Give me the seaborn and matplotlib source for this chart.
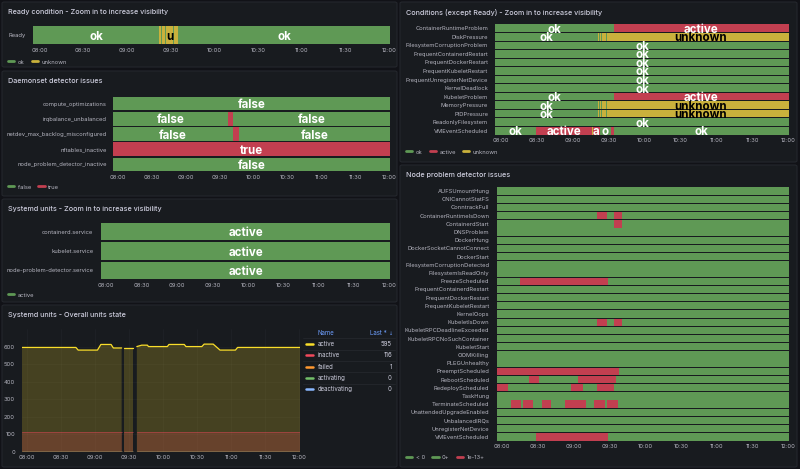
import numpy as np
import pandas as pd
import matplotlib
matplotlib.use("Agg")
import matplotlib.pyplot as plt
import seaborn as sns
from matplotlib.lines import Line2D
from matplotlib.patches import FancyBboxPatch

# ---- data: times are minutes after 08:00 ----
X0, X1 = -4.5, 240.5
tick_minutes = [0, 30, 60, 90, 120, 150, 180, 210, 240]
tick_labels = ["08:00", "08:30", "09:00", "09:30", "10:00", "10:30", "11:00", "11:30", "12:00"]

# state timelines: list of (change time, new state) per row
ready_rows = ["Ready"]
ready_changes = [[(X0, "ok"), (82, "unknown"), (83.5, "ok"), (84, "unknown"), (86.3, "ok"),
                  (86.8, "unknown"), (91.8, "ok"), (92.3, "unknown"), (95.3, "ok")]]

ds_rows = ["compute_optimizations", "irqbalance_unbalanced", "netdev_max_backlog_misconfigured",
           "nftables_inactive", "node_problem_detector_inactive"]
ds_changes = [[(X0, "false")],
              [(X0, "false"), (97, "true"), (101.5, "false")],
              [(X0, "false"), (102, "true"), (107, "false")],
              [(X0, "true")],
              [(X0, "false")]]

sd_rows = ["containerd.service", "kubelet.service", "node-problem-detector.service"]
sd_changes = [[(X0, "active")], [(X0, "active")], [(X0, "active")]]

cond_rows = ["ContainerRuntimeProblem", "DiskPressure", "FilesystemCorruptionProblem",
             "FrequentContainerdRestart", "FrequentDockerRestart", "FrequentKubeletRestart",
             "FrequentUnregisterNetDevice", "KernelDeadlock", "KubeletProblem", "MemoryPressure",
             "PIDPressure", "ReadonlyFilesystem", "VMEventScheduled"]
pressure_changes = [(X0, "ok"), (81.5, "unknown"), (82.3, "ok"), (83, "unknown"), (84, "ok"),
                    (84.6, "unknown"), (88, "ok"), (88.6, "unknown"), (92, "ok"), (92.5, "unknown")]
cond_changes = [[(X0, "ok"), (94.5, "active")],
                pressure_changes,
                [(X0, "ok")], [(X0, "ok")], [(X0, "ok")], [(X0, "ok")], [(X0, "ok")], [(X0, "ok")],
                [(X0, "ok"), (94.5, "active")],
                pressure_changes,
                pressure_changes,
                [(X0, "ok")],
                [(X0, "ok"), (30, "active"), (76, "unknown"), (76.8, "active"), (83, "ok"),
                 (92, "active"), (95, "ok")]]

npd_rows = ["AUFSUmountHung", "CNICannotStatFS", "ConntrackFull", "ContainerRuntimeIsDown",
            "ContainerdStart", "DNSProblem", "DockerHung", "DockerSocketCannotConnect", "DockerStart",
            "FilesystemCorruptionDetected", "FilesystemIsReadOnly", "FreezeScheduled",
            "FrequentContainerdRestart", "FrequentDockerRestart", "FrequentKubeletRestart",
            "KernelOops", "KubeletIsDown", "KubeletRPCDeadlineExceeded", "KubeletRPCNoSuchContainer",
            "KubeletStart", "OOMKilling", "PLEGUnhealthy", "PreemptScheduled", "RebootScheduled",
            "RedeployScheduled", "TaskHung", "TerminateScheduled", "UnattendedUpgradeEnabled",
            "UnbalancedIRQs", "UnregisterNetDevice", "VMEventScheduled"]
# (start, end) of the red "1e-13+" periods per row
npd_issues = {
    "ContainerRuntimeIsDown": [(79, 88), (94, 100)],
    "ContainerdStart": [(94, 100)],
    "FreezeScheduled": [(14.5, 89)],
    "KubeletIsDown": [(79, 88), (94, 100)],
    "PreemptScheduled": [(X0, 98)],
    "RebootScheduled": [(22, 31), (63.5, 95.5)],
    "RedeployScheduled": [(X0, 5), (58, 67.5), (79.5, 94)],
    "TerminateScheduled": [(7.4, 16), (17.7, 26), (33, 41), (52.5, 70), (77, 86), (88, 97)],
    "VMEventScheduled": [(28.5, 89)],
}

# systemd unit counts (None = no data)
units_t = [X0, 43, 45, 62, 65, 74, 76, 83.3, 84, 85, 93, 95, 96.7, 101, 106, 107, 123.6, 125,
           138.5, 140, 154, 156, 164, 170, 183.6, 185.5, X1]
active = [595, 595, 580, 580, 612, 612, 592, 592, None, 590, 590, None, 600, 608, 608, 600, 600,
          612, 612, 600, 600, 614, 614, 580, 580, 595, 595]
inactive = [116, 116, 116, 116, 116, 116, 116, 116, None, 116, 116, None, 116, 116, 116, 116, 116,
            116, 116, 116, 116, 116, 116, 116, 116, 116, 116]
failed = [1, 1, 1, 1, 1, 1, 1, 1, None, 1, 1, None, 1, 1, 1, 1, 1, 1, 1, 1, 1, 1, 1, 1, 1, 1, 1]
activating = [0, 0, 0, 0, 0, 0, 0, 0, None, 0, 0, None, 0, 0, 0, 0, 0, 0, 0, 0, 0, 0, 0, 0, 0, 0, 0]
deactivating = [0, 0, 0, 0, 0, 0, 0, 0, None, 0, 0, None, 0, 0, 0, 0, 0, 0, 0, 0, 0, 0, 0, 0, 0, 0, 0]
unit_names = ["active", "inactive", "failed", "activating", "deactivating"]

# ---- style ----
W, H = 800, 469
BG = "#111217"
PANEL = "#181b1f"
BORDER = "#24272d"
TXT = "#ccccdc"
TICK = "#b4b4bf"
GREEN = "#5f9955"
RED = "#c23f50"
YELLOW = "#c9b13c"
unit_colors = ["#fade2a", "#f2495c", "#ff9830", "#73bf69", "#8ab8ff"]

sns.set_theme(style="dark")
plt.rcParams["font.family"] = ["Inter", "DejaVu Sans"]

fig = plt.figure(figsize=(8, 4.69), dpi=100, facecolor=BG)


def rect(x0, y0, x1, y1):
    return [x0 / W, 1 - y1 / H, (x1 - x0) / W, (y1 - y0) / H]


def panel(x0, y0, x1, y1, title):
    fig.add_artist(FancyBboxPatch((x0 / W, 1 - y1 / H), (x1 - x0) / W, (y1 - y0) / H,
                                  boxstyle="round,pad=0,rounding_size=0.003",
                                  transform=fig.transFigure, facecolor=PANEL,
                                  edgecolor=BORDER, lw=0.8, zorder=-10))
    fig.text((x0 + 6) / W, 1 - (y0 + 10) / H, title, color=TXT, fontsize=5.2,
             fontweight="medium", va="center", ha="left")


def legend(x, y, labels, colors):
    handles = [Line2D([], [], color=c, lw=2) for c in colors]
    fig.legend(handles, labels, loc="center left", bbox_to_anchor=(x / W, 1 - y / H),
               frameon=False, ncol=len(labels), fontsize=4.2, handlelength=1.1,
               handletextpad=0.6, columnspacing=1.2, labelcolor=TICK, borderpad=0,
               borderaxespad=0)


def style_time(ax):
    ax.set_facecolor("none")
    for s in ax.spines.values():
        s.set_visible(False)
    ax.set_xlim(X0, X1)
    ax.set_xticks(tick_minutes)
    ax.set_xticklabels(tick_labels)
    ax.tick_params(axis="x", length=0, pad=2.5, labelsize=4.2, labelcolor=TICK)
    ax.tick_params(axis="y", length=0, labelsize=4.2, labelcolor=TICK)


def timeline(box, rows, changes, colors, labels=True, fs=8.3, ypad=5):
    ax = fig.add_axes(rect(*box))
    ppm = (box[2] - box[0]) / (X1 - X0)
    charw = 0.56 * fs * 100 / 72
    for i, ch in enumerate(changes):
        starts = [c[0] for c in ch]
        states = [c[1] for c in ch]
        ends = starts[1:] + [X1]
        ax.barh(i, np.subtract(ends, starts), left=starts, height=0.9,
                color=[colors[s] for s in states], lw=0)
        if not labels:
            continue
        for s, e, st in zip(starts, ends, states):
            nch = int((e - s) * ppm // charw)
            if nch < 1:
                continue
            txt = st if nch >= len(st) else st[:nch]
            col = "#000000" if colors[st] == YELLOW else "white"
            ax.text((s + e) / 2, i, txt, ha="center", va="center_baseline", color=col,
                    fontsize=fs, fontweight="bold")
    style_time(ax)
    ax.set_ylim(len(rows) - 0.5, -0.5)
    ax.set_yticks(range(len(rows)))
    ax.set_yticklabels(rows)
    ax.tick_params(axis="y", pad=ypad)
    ax.grid(False)
    return ax


# ---- panels ----
panel(2, 2, 397, 67, "Ready condition - Zoom in to increase visibility")
panel(2, 71, 397, 196, "Daemonset detector issues")
panel(2, 199, 397, 302, "Systemd units - Zoom in to increase visibility")
panel(2, 305, 397, 467, "Systemd units - Overall units state")
panel(400, 2, 797, 162, "Conditions (except Ready) - Zoom in to increase visibility")
panel(400, 165, 797, 467, "Node problem detector issues")

state_cols = {"ok": GREEN, "unknown": YELLOW, "active": RED, "false": GREEN, "true": RED}

timeline((33, 25, 390, 45), ready_rows, ready_changes, state_cols, ypad=5.5)
legend(8, 62, ["ok", "unknown"], [GREEN, YELLOW])

timeline((113, 96, 390, 172), ds_rows, ds_changes, state_cols, ypad=4.5)
legend(8, 187, ["false", "true"], [GREEN, RED])

sd_cols = {"active": GREEN}
timeline((101, 222, 390, 280), sd_rows, sd_changes, sd_cols, ypad=5.5)
legend(8, 295, ["active"], [GREEN])

timeline((495, 24, 789, 135), cond_rows, cond_changes, state_cols, ypad=5)
legend(406, 152, ["ok", "active", "unknown"], [GREEN, RED, YELLOW])

npd_changes = []
for name in npd_rows:
    ch = [(X0, "ok")]
    for s, e in npd_issues.get(name, []):
        if s <= X0:
            ch = [(X0, "issue")]
        else:
            ch.append((s, "issue"))
        ch.append((e, "ok"))
    npd_changes.append(ch)
timeline((497, 187, 789, 441), npd_rows, npd_changes, {"ok": GREEN, "issue": RED},
         labels=False, ypad=5.5)
legend(406, 457, ["< 0", "0+", "1e-13+"], [GREEN, GREEN, RED])

# ---- systemd overall units: time series ----
series = [active, inactive, failed, activating, deactivating]
rows = []
for name, vals in zip(unit_names, series):
    seg = 0
    for t, v in zip(units_t, vals):
        if v is None:
            seg += 1
            continue
        rows.append({"t": t, "value": v, "unit": name, "seg": seg})
df = pd.DataFrame(rows)

ax = fig.add_axes(rect(22, 329, 300, 452))
for name, vals, c in zip(unit_names, series, unit_colors):
    y = np.array([np.nan if v is None else v for v in vals], dtype=float)
    ax.fill_between(units_t, y, color=c, alpha=0.2, lw=0)
sns.lineplot(data=df, x="t", y="value", hue="unit", units="seg", estimator=None,
             palette=dict(zip(unit_names, unit_colors)), hue_order=unit_names[::-1],
             lw=0.9, legend=False, ax=ax)
for line in ax.get_lines():
    if line.get_color() == "#f2495c":
        line.set_alpha(0.45)
        line.set_linewidth(0.6)
style_time(ax)
ax.set_ylim(0, 700)
ax.set_yticks([0, 100, 200, 300, 400, 500, 600])
ax.set_xlabel("")
ax.set_ylabel("")
ax.tick_params(axis="y", pad=5)
ax.grid(True, color="#2a2d33", lw=0.4, alpha=0.6)
ax.set_axisbelow(True)

# legend table
fig.text(318 / W, 1 - 333 / H, "Name", color="#6e9fff", fontsize=4.4, va="center")
fig.text(387 / W, 1 - 333 / H, "Last *", color="#6e9fff", fontsize=4.4, va="center", ha="right")
fig.text(391 / W, 1 - 333 / H, "↓", color="#6e9fff", fontsize=3.5, va="center", ha="center",
         family=["DejaVu Sans"])
for k, (name, vals, c) in enumerate(zip(unit_names, series, unit_colors)):
    yy = 344 + k * 11.3
    fig.add_artist(Line2D([306 / W, 313 / W], [1 - yy / H, 1 - yy / H], color=c, lw=1.8,
                          transform=fig.transFigure))
    fig.text(318 / W, 1 - yy / H, name, color=TXT, fontsize=4.4, va="center")
    fig.text(392 / W, 1 - yy / H, f"{vals[-1]:g}", color=TXT, fontsize=4.4, va="center", ha="right")
    fig.add_artist(Line2D([303 / W, 395 / W], [1 - (yy - 5.6) / H, 1 - (yy - 5.6) / H],
                          color="#24272d", lw=0.6, transform=fig.transFigure))

fig.savefig("out.png", dpi=100, facecolor=BG)
